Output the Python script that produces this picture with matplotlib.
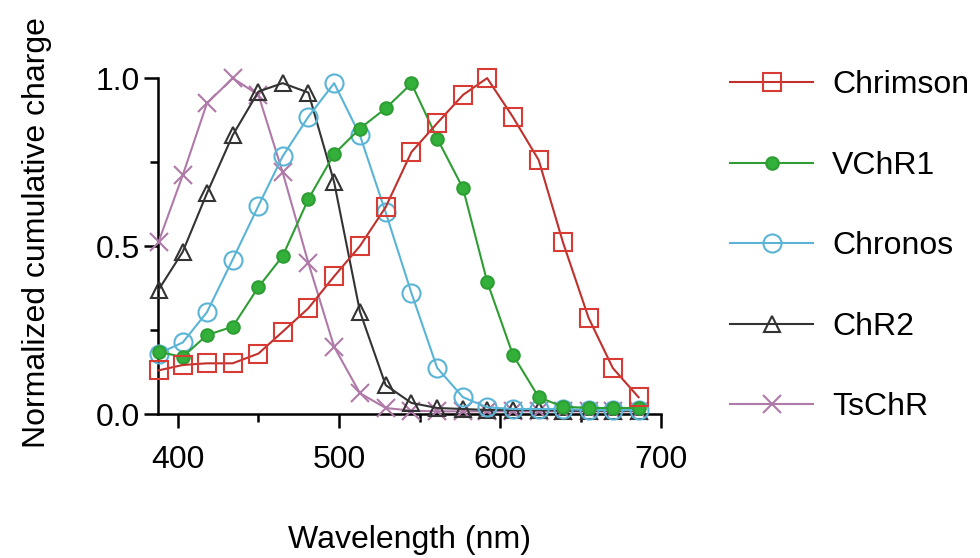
import numpy as np
import matplotlib
matplotlib.use("Agg")
import matplotlib.pyplot as plt
from matplotlib.ticker import FixedLocator

plt.rcParams['font.family'] = ['Liberation Sans', 'DejaVu Sans']

# wavelengths (nm)
wavelength = [388, 403, 418, 434, 450, 465, 481, 497, 513, 529,
              545, 561, 577, 592, 608, 624, 639, 655, 670, 686]

# normalized cumulative charge per opsin
chrimson = [0.13, 0.146, 0.151, 0.151, 0.18, 0.245, 0.315, 0.41, 0.50, 0.616,
            0.78, 0.866, 0.95, 1.0, 0.884, 0.756, 0.512, 0.286, 0.137, 0.05]
vchr1 = [0.185, 0.17, 0.235, 0.26, 0.378, 0.47, 0.64, 0.774, 0.85, 0.91,
         0.984, 0.82, 0.672, 0.394, 0.176, 0.05, 0.022, 0.018, 0.018, 0.018]
chronos = [0.18, 0.213, 0.303, 0.46, 0.62, 0.767, 0.885, 0.985, 0.83, 0.60,
           0.36, 0.137, 0.05, 0.02, 0.015, 0.015, 0.015, 0.012, 0.012, 0.012]
chr2 = [0.37, 0.483, 0.657, 0.83, 0.96, 0.985, 0.957, 0.69, 0.305, 0.086,
        0.033, 0.018, 0.015, 0.012, 0.012, 0.012, 0.01, 0.01, 0.01, 0.01]
tschr = [0.513, 0.711, 0.925, 1.0, 0.95, 0.72, 0.45, 0.20, 0.062, 0.018,
         0.01, 0.008, 0.008, 0.008, 0.008, 0.008, 0.008, 0.008, 0.008, 0.008]

names = ["Chrimson", "VChR1", "Chronos", "ChR2", "TsChR"]
x_major = [400, 500, 600, 700]
x_minor = [450, 550, 650]
y_major = [0.0, 0.5, 1.0]
y_minor = [0.25, 0.75]
y_labels = ["0.0", "0.5", "1.0"]

fig = plt.figure(figsize=(9.8, 5.58), dpi=100)
ax = fig.add_axes([0.161, 0.258, 0.5136, 0.602])

common = dict(linewidth=1.5, markeredgewidth=1.5, clip_on=False)

# drawn bottom-up so Chrimson sits on top
h5, = ax.plot(wavelength, tschr, color="#b07aa8", marker="x", markersize=13,
              zorder=3, **common)
h4, = ax.plot(wavelength, chr2, color="#333333", marker="^", markersize=12,
              markerfacecolor="none", zorder=4, **common)
h3, = ax.plot(wavelength, chronos, color="#5ab4d6", marker="o", markersize=13,
              markerfacecolor="none", zorder=5, **common)
h2, = ax.plot(wavelength, vchr1, color="#2e9e34", marker="o", markersize=9,
              markerfacecolor="#33b03a", zorder=6, **common)
h1, = ax.plot(wavelength, chrimson, color="#c0302c", marker="s", markersize=13,
              markerfacecolor="none", markeredgecolor="#d83a34", zorder=7, **common)

ax.set_xlim(387.5, 700)
ax.set_ylim(0, 1.0)
ax.spines['top'].set_visible(False)
ax.spines['right'].set_visible(False)
for s in ['left', 'bottom']:
    ax.spines[s].set_linewidth(1.8)

ax.xaxis.set_major_locator(FixedLocator(x_major))
ax.xaxis.set_minor_locator(FixedLocator(x_minor))
ax.yaxis.set_major_locator(FixedLocator(y_major))
ax.yaxis.set_minor_locator(FixedLocator(y_minor))
ax.set_yticklabels(y_labels)
ax.tick_params(which='major', length=10, width=1.8, labelsize=23, pad=3)
ax.tick_params(which='minor', length=6, width=1.8)
ax.tick_params(axis='x', which='major', pad=12)

ax.set_xlabel("Wavelength (nm)", fontsize=23)
ax.xaxis.set_label_coords(0.5, -0.33)
ax.set_ylabel("Normalized cumulative charge", fontsize=23)
ax.yaxis.set_label_coords(-0.21, 0.54)

fig.legend([h1, h2, h3, h4, h5], names, loc='upper left',
           bbox_to_anchor=(0.745, 0.874), frameon=False, fontsize=23,
           handlelength=2.6, handletextpad=0.6, labelspacing=1.58,
           borderpad=0, borderaxespad=0)

fig.savefig("out.png", dpi=100)
